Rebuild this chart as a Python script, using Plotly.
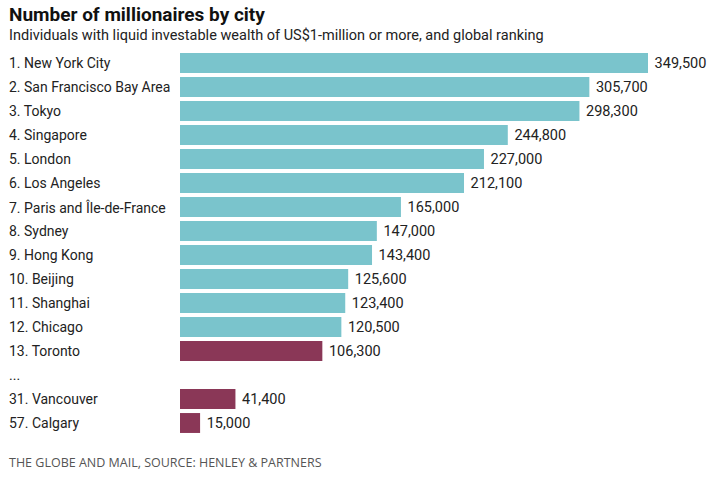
import plotly.graph_objects as go

cities = ["1. New York City", "2. San Francisco Bay Area", "3. Tokyo", "4. Singapore",
          "5. London", "6. Los Angeles", "7. Paris and Île-de-France", "8. Sydney",
          "9. Hong Kong", "10. Beijing", "11. Shanghai", "12. Chicago", "13. Toronto",
          "...", "31. Vancouver", "57. Calgary"]
values = [349500, 305700, 298300, 244800, 227000, 212100, 165000, 147000,
          143400, 125600, 123400, 120500, 106300, None, 41400, 15000]
canadian = [False]*12 + [True, False, True, True]

TEAL = "#7ac4cc"
MAROON = "#8a3757"
colors = [MAROON if c else TEAL for c in canadian]
texts = [f" {v:,}" if v is not None else "" for v in values]

LX = -173/500

fig = go.Figure(go.Bar(
    x=values, y=cities, orientation="h",
    marker=dict(color=colors, line=dict(width=0)),
    text=texts, textposition="outside", cliponaxis=False,
    textfont=dict(family="Roboto", size=14.5, color="#222"),
    hoverinfo="skip",
))

for c in cities:
    fig.add_annotation(x=LX, xref="paper", y=c, yref="y", text=c,
                       xanchor="left", showarrow=False,
                       font=dict(family="Roboto", size=14, color="#222"))

fig.add_annotation(x=LX, xref="paper", y=1, yref="paper", yshift=50, yanchor="top",
                   text="<b>Number of millionaires by city</b>", xanchor="left", showarrow=False,
                   font=dict(family="Roboto", size=19, color="#111"))
fig.add_annotation(x=LX, xref="paper", y=1, yref="paper", yshift=26, yanchor="top",
                   text="Individuals with liquid investable wealth of US$1-million or more, and global ranking",
                   xanchor="left", showarrow=False,
                   font=dict(family="Roboto", size=14.5, color="#222"))
fig.add_annotation(x=LX, xref="paper", y=0, yref="paper", yshift=-17, yanchor="top",
                   text="THE GLOBE AND MAIL, SOURCE: HENLEY &amp; PARTNERS",
                   xanchor="left", showarrow=False,
                   font=dict(family="Open Sans", size=12.5, color="#555"))

fig.update_layout(
    width=716, height=482,
    margin=dict(l=180, r=36, t=51, b=47),
    plot_bgcolor="white", paper_bgcolor="white",
    bargap=0.17,
    showlegend=False,
    xaxis=dict(range=[0, 349500*500/468], visible=False),
    yaxis=dict(categoryorder="array", categoryarray=cities, autorange="reversed",
               showticklabels=False, showgrid=False, zeroline=False),
)

fig.write_html("out.html", config={"displayModeBar": False},
               post_script="document.body.style.margin='0';")
